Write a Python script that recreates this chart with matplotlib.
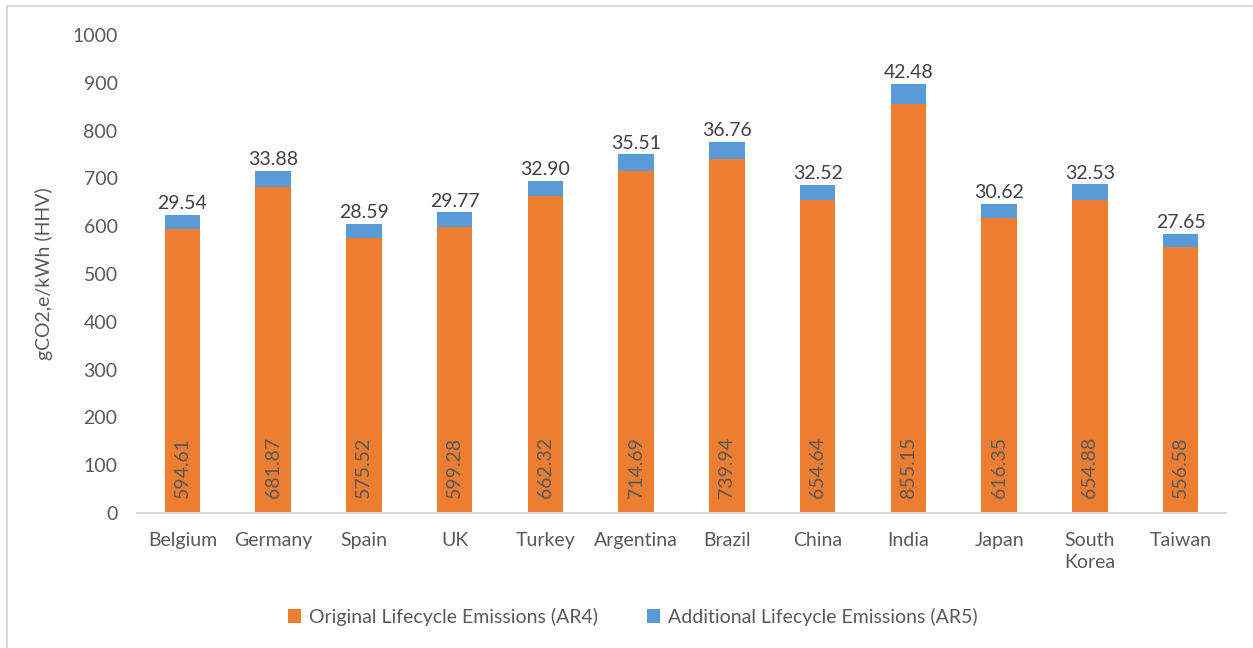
import matplotlib.pyplot as plt
from matplotlib.patches import Rectangle
import numpy as np

plt.rcParams['font.family'] = ['Lato', 'DejaVu Sans']

countries = ['Belgium', 'Germany', 'Spain', 'UK', 'Turkey', 'Argentina',
             'Brazil', 'China', 'India', 'Japan', 'South\nKorea', 'Taiwan']
ar4 = [594.61, 681.87, 575.52, 599.28, 662.32, 714.69,
       739.94, 654.64, 855.15, 616.35, 654.88, 556.58]
ar5 = [29.54, 33.88, 28.59, 29.77, 32.90, 35.51,
       36.76, 32.52, 42.48, 30.62, 32.53, 27.65]

orange = '#ED7D31'
blue = '#5B9BD5'
text_gray = '#595959'
fs = 14

fig = plt.figure(figsize=(12.53, 6.48), dpi=100)
ax = fig.add_axes([137 / 1253, 135 / 648, (1226 - 137) / 1253, 478 / 648])

# outer chart frame (runs off the right and bottom edges)
fig.patches.append(Rectangle((6.5 / 1253, -0.1), 1.2, (641.5 / 648) + 0.1,
                             transform=fig.transFigure, fill=False,
                             edgecolor='#D9D9D9', linewidth=1.5))

x = np.arange(len(countries))
width = 0.39
b1 = ax.bar(x, ar4, width, color=orange, label='Original Lifecycle Emissions (AR4)')
b2 = ax.bar(x, ar5, width, bottom=ar4, color=blue, label='Additional Lifecycle Emissions (AR5)')

for xi, base, add in zip(x, ar4, ar5):
    ax.annotate(f'{base:.2f}', (xi, 0), xytext=(0, 11), textcoords='offset points',
                rotation=90, ha='center', va='bottom', fontsize=fs, color=text_gray)
    ax.annotate(f'{add:.2f}', (xi, base + add), xytext=(0, 2), textcoords='offset points',
                ha='center', va='bottom', fontsize=fs, color='#404040')

ax.set_xlim(-0.5, len(countries) - 0.5)
ax.set_ylim(0, 1000)
ax.set_yticks(np.arange(0, 1001, 100))
ax.set_xticks(x)
ax.set_xticklabels(countries, linespacing=1.3)
ax.tick_params(axis='both', length=0, labelsize=fs, labelcolor=text_gray)
ax.tick_params(axis='x', pad=14)
ax.tick_params(axis='y', pad=14)
ax.set_ylabel('gCO2,e/kWh (HHV)', fontsize=fs, color=text_gray, labelpad=14)

for side in ['top', 'right', 'left']:
    ax.spines[side].set_visible(False)
ax.spines['bottom'].set_color('#D9D9D9')
ax.spines['bottom'].set_linewidth(1.5)

fig.legend(handles=[b1, b2], loc='center', bbox_to_anchor=(0.505, 1 - 617 / 648),
           ncol=2, frameon=False, fontsize=fs, labelcolor=text_gray,
           handlelength=0.7, handleheight=0.7, handletextpad=0.4, columnspacing=2.5)

fig.savefig('out.png', dpi=100)
